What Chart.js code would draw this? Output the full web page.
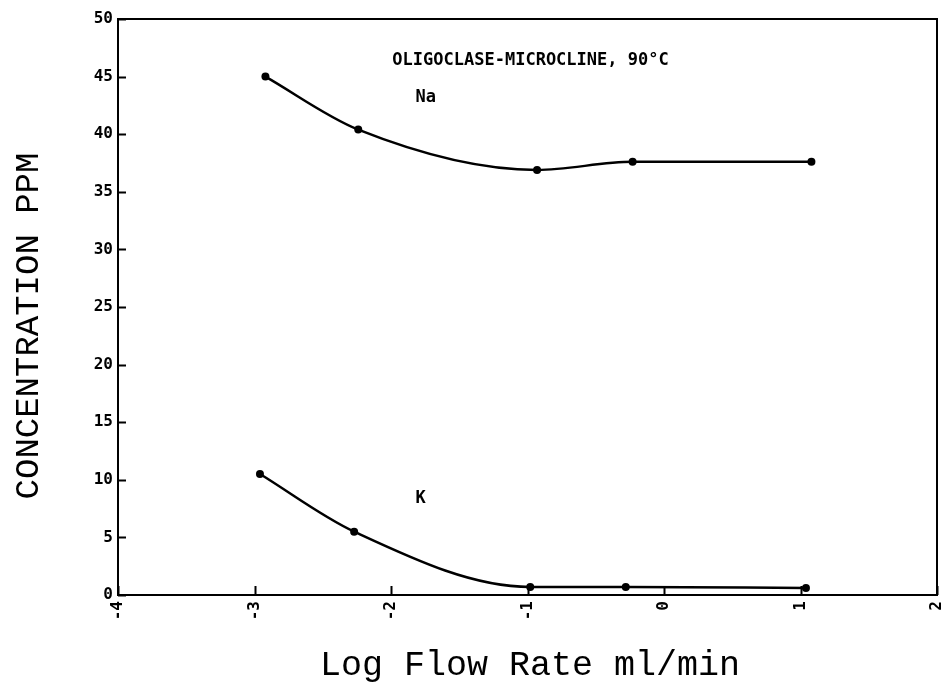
<!DOCTYPE html>
<html>
<head>
<meta charset="utf-8">
<title>Oligoclase-Microcline 90°C</title>
<script src="https://cdn.jsdelivr.net/npm/chart.js@4.4.1/dist/chart.umd.min.js"></script>
<style>
  html, body { margin: 0; padding: 0; background: #fff; }
  #wrap { width: 943px; height: 690px; position: relative; }
</style>
</head>
<body>
<div id="wrap"><canvas id="plot"></canvas></div>
<script>
// --- DATA ---
const naFlow = [-2.92, -2.24, -0.93, -0.23, 1.08];
const naConc = [45.0, 40.4, 36.9, 37.6, 37.6];
const kFlow = [-2.96, -2.27, -0.98, -0.28, 1.04];
const kConc = [10.5, 5.5, 0.7, 0.7, 0.6];
const xTicks = [-4, -3, -2, -1, 0, 1, 2];
const yTicks = [0, 5, 10, 15, 20, 25, 30, 35, 40, 45, 50];

const plotTitle = "OLIGOCLASE-MICROCLINE, 90°C";
const xTitle = "Log Flow Rate ml/min";
const yTitle = "CONCENTRATION PPM";

const tickFont = { family: "DejaVu Sans Mono", size: 16, weight: "bold" };

function toPoints(xs, ys) {
  return xs.map((x, i) => ({ x: x, y: ys[i] }));
}

// frame, inward tick marks, titles and labels
const decorations = {
  id: "decorations",
  afterDraw(chart) {
    const c = chart.ctx;
    const a = chart.chartArea;
    const xs = chart.scales.x;
    const ys = chart.scales.y;
    c.save();
    c.strokeStyle = "#000";
    c.lineWidth = 2;
    c.strokeRect(a.left, a.top, a.right - a.left, a.bottom - a.top);

    c.beginPath();
    yTicks.forEach(v => {
      const py = Math.round(ys.getPixelForValue(v)) + 0.5;
      c.moveTo(a.left, py);
      c.lineTo(a.left + 8, py);
    });
    xTicks.forEach(v => {
      const px = Math.round(xs.getPixelForValue(v)) + 0.5;
      c.moveTo(px, a.bottom);
      c.lineTo(px, a.bottom - 9);
    });
    c.stroke();

    c.fillStyle = "#000";
    c.textBaseline = "middle";
    c.textAlign = "left";
    c.font = "bold 17px 'DejaVu Sans Mono'";
    c.fillText(plotTitle, xs.getPixelForValue(-1.99), ys.getPixelForValue(46.4));
    c.fillText("Na", xs.getPixelForValue(-1.82), ys.getPixelForValue(43.2));
    c.fillText("K", xs.getPixelForValue(-1.82), ys.getPixelForValue(8.4));

    c.font = "35px 'Liberation Mono'";
    c.textAlign = "center";
    c.textBaseline = "alphabetic";
    c.fillText(xTitle, 530, 675);

    c.font = "34px 'Liberation Mono'";
    c.translate(38, 326);
    c.rotate(-Math.PI / 2);
    c.fillText(yTitle, 0, 0);
    c.restore();
  }
};

const lineStyle = {
  showLine: true,
  borderColor: "#000",
  backgroundColor: "#000",
  borderWidth: 2.5,
  pointRadius: 4,
  pointHoverRadius: 4,
  pointBorderWidth: 0,
  cubicInterpolationMode: "monotone"
};

const chart = new Chart(document.getElementById("plot"), {
  type: "scatter",
  data: {
    datasets: [
      Object.assign({ label: "Na", data: toPoints(naFlow, naConc) }, lineStyle),
      Object.assign({ label: "K", data: toPoints(kFlow, kConc) }, lineStyle)
    ]
  },
  options: {
    responsive: true,
    maintainAspectRatio: false,
    animation: false,
    events: [],
    layout: { padding: { top: 19, right: 6, left: 0, bottom: 0 } },
    plugins: { legend: { display: false }, tooltip: { enabled: false } },
    scales: {
      x: {
        type: "linear",
        min: -4,
        max: 2,
        afterBuildTicks: s => { s.ticks = xTicks.map(v => ({ value: v })); },
        afterFit: s => {
          s.height = 95;
          s.paddingLeft = 0;
          s.paddingRight = 0;
        },
        grid: { display: false, drawTicks: false },
        border: { display: false },
        ticks: {
          color: "#000",
          font: tickFont,
          padding: 6,
          autoSkip: false,
          minRotation: 90,
          maxRotation: 90
        }
      },
      y: {
        type: "linear",
        min: 0,
        max: 50,
        afterBuildTicks: s => { s.ticks = yTicks.map(v => ({ value: v })); },
        afterFit: s => {
          s.width = 118;
          s.paddingTop = 0;
          s.paddingBottom = 0;
        },
        grid: { display: false, drawTicks: false },
        border: { display: false },
        ticks: { color: "#000", font: tickFont, padding: 5 }
      }
    }
  },
  plugins: [decorations]
});
</script>
</body>
</html>
